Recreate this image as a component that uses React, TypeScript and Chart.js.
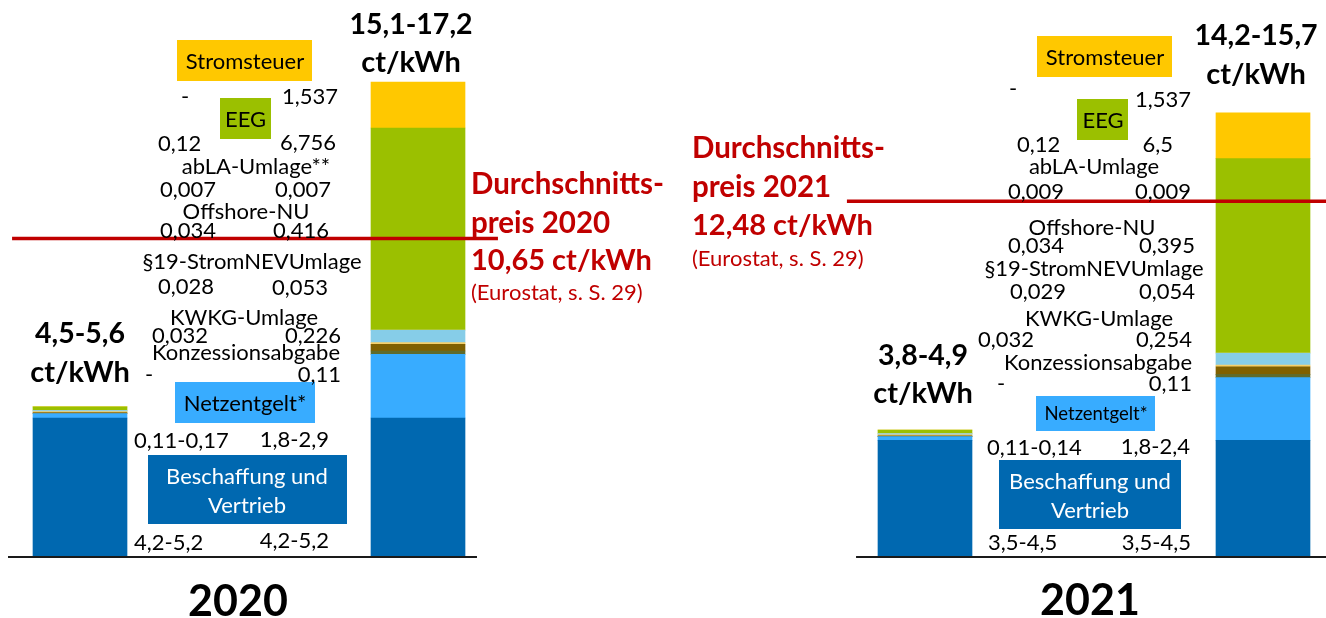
import React, { useEffect, useRef } from "react";
import { Chart, registerables } from "chart.js";
Chart.register(...registerables);

// ---------- DATA ----------
const years = ["2020", "2021"];
const components = [
  "Beschaffung und Vertrieb",
  "Netzentgelt*",
  "Konzessionsabgabe",
  "KWKG-Umlage",
  "§19-StromNEVUmlage",
  "Offshore-NU",
  "abLA-Umlage",
  "EEG",
  "Stromsteuer",
];
const componentColors = ["#0068B0", "#38ACFF", "#5F6B2C", "#806000", "#F5CF6A", "#86CDE8", "#D9D9D9", "#9BC000", "#FFC800"];

// bar slots on the x axis: 2020 low, 2020 high, 2021 low, 2021 high
const barSlots = [0, 2, 5, 7];
const beschaffung = [4.65, 4.65, 3.9, 3.9];
const netzentgelt = [0.15, 2.13, 0.125, 2.1];
const konzession = [0, 0.11, 0, 0.11];
const kwkg = [0.032, 0.226, 0.032, 0.254];
const stromnev = [0.028, 0.053, 0.029, 0.054];
const offshore = [0.034, 0.416, 0.034, 0.395];
const abla = [0.007, 0.007, 0.009, 0.009];
const eeg = [0.12, 6.756, 0.12, 6.5];
const stromsteuer = [0, 1.537, 0, 1.537];
const series = [beschaffung, netzentgelt, konzession, kwkg, stromnev, offshore, abla, eeg, stromsteuer];

const barTotals = ["4,5-5,6", "15,1-17,2", "3,8-4,9", "14,2-15,7"];
const avgPriceText = ["10,65", "12,48"];
const avgLineLevel = [10.65, 11.9];

// value labels [low, high] per component
const labels2020 = [
  ["4,2-5,2", "4,2-5,2"],
  ["0,11-0,17", "1,8-2,9"],
  ["-", "0,11"],
  ["0,032", "0,226"],
  ["0,028", "0,053"],
  ["0,034", "0,416"],
  ["0,007", "0,007"],
  ["0,12", "6,756"],
  ["-", "1,537"],
];
const labels2021 = [
  ["3,5-4,5", "3,5-4,5"],
  ["0,11-0,14", "1,8-2,4"],
  ["-", "0,11"],
  ["0,032", "0,254"],
  ["0,029", "0,054"],
  ["0,034", "0,395"],
  ["0,009", "0,009"],
  ["0,12", "6,5"],
  ["-", "1,537"],
];
const nameSuffix2020 = ["", "", "", "", "", "", "**", "", ""];

// ---------- LAYOUT (pixels) ----------
// per component: [nameX, nameY, lowLeftX, lowY, highRightX, highY]
const layout2020 = [
  [247, 476, 134, 542, 329, 540],
  [245, 403, 134, 440, 329, 439],
  [246, 352, 145, 374, 341, 374],
  [244, 317, 152, 335, 341, 335],
  [252, 261, 158, 286, 328, 287],
  [246, 211, 160, 230, 329, 230],
  [256, 166, 160, 189, 331, 189],
  [245.5, 119, 158, 143, 336, 142],
  [245, 61, 181, 96, 338, 96],
];
const layout2021 = [
  [1090, 481, 988, 542, 1191, 542],
  [1096, 413, 987, 447, 1190, 446],
  [1098, 362, 997, 383, 1192, 383],
  [1099, 318, 978, 339, 1192, 339],
  [1094, 268, 1010, 291, 1195, 291],
  [1092, 227, 1008, 245, 1195, 245],
  [1094, 166, 1008, 191, 1191, 191],
  [1103, 120, 1017, 144, 1173, 144],
  [1105, 57, 1009, 88, 1191, 99],
];
// boxes: component index -> [x0, y0, x1, y1]
const boxes2020: Record<number, number[]> = {
  0: [148, 455, 347, 524],
  1: [175, 382, 315, 423],
  7: [220, 98, 271, 139],
  8: [177, 40, 312, 81],
};
const boxes2021: Record<number, number[]> = {
  0: [999, 460, 1181, 529],
  1: [1036, 396, 1155, 431],
  7: [1077, 99, 1128, 140],
  8: [1037, 36, 1172, 77],
};
const totalPos = [
  [80, 333, 372],
  [411, 24, 62],
  [923, 355, 393],
  [1256, 35, 74],
];
const yearPos = [
  [238, 601],
  [1090, 600],
];
const redTextPos = [
  [471, 183, 222, 260, 292],
  [692, 147, 186, 225, 258],
];
// x-ranges of lines in slot units
const avgLineSpan = [
  [-0.402, 2.473],
  [4.538, 7.373],
];
const axisSpan = [
  [-0.426, 2.349],
  [4.592, 7.373],
];

const FONT = "Lato, 'Open Sans', sans-serif";
const RED = "#C00000";
const LABEL_SIZE = 22;

function drawText(
  ctx: CanvasRenderingContext2D,
  text: string,
  x: number,
  cy: number,
  size: number,
  opts: { bold?: boolean; align?: CanvasTextAlign; color?: string } = {}
) {
  ctx.font = `${opts.bold ? "bold " : ""}${size}px ${FONT}`;
  ctx.fillStyle = opts.color || "#000";
  ctx.textAlign = opts.align || "left";
  ctx.textBaseline = "alphabetic";
  ctx.fillText(text, x, cy + size * 0.36);
}

const overlayPlugin = {
  id: "overlay",
  afterDraw(chart: any) {
    const ctx: CanvasRenderingContext2D = chart.ctx;
    ctx.save();
    const panels = [
      { layout: layout2020, boxes: boxes2020, labels: labels2020, suffix: nameSuffix2020 },
      { layout: layout2021, boxes: boxes2021, labels: labels2021, suffix: null },
    ];
    panels.forEach((p, pi) => {
      components.forEach((name, i) => {
        const [nx, ny, lx, ly, hx, hy] = p.layout[i];
        const box = p.boxes[i];
        let color = "#000";
        let size = LABEL_SIZE;
        if (box) {
          ctx.fillStyle = componentColors[i];
          ctx.fillRect(box[0], box[1], box[2] - box[0], box[3] - box[1]);
          if (i === 0) color = "#FFFFFF";
          if (pi === 1 && i === 1) size = 18.5;
        }
        const full = name + (p.suffix ? p.suffix[i] : "");
        if (i === 0) {
          const parts = ["Beschaffung und", "Vertrieb"];
          drawText(ctx, parts[0], nx, ny, 22, { align: "center", color });
          drawText(ctx, parts[1], nx, ny + 29, 22, { align: "center", color });
        } else {
          drawText(ctx, full, nx, ny, size, { align: "center", color });
        }
        drawText(ctx, p.labels[i][0], lx, ly, LABEL_SIZE, { align: "left" });
        drawText(ctx, p.labels[i][1], hx, hy, LABEL_SIZE, { align: "right" });
      });
    });
    barTotals.forEach((t, i) => {
      const [x, y1, y2] = totalPos[i];
      drawText(ctx, t, x, y1, 28.5, { bold: true, align: "center" });
      drawText(ctx, "ct/kWh", x, y2, 29, { bold: true, align: "center" });
    });
    years.forEach((yr, i) => {
      drawText(ctx, yr, yearPos[i][0], yearPos[i][1], 43, { bold: true, align: "center" });
      const [rx, a, b, c, d] = redTextPos[i];
      drawText(ctx, "Durchschnitts-", rx, a, 29.5, { bold: true, color: RED });
      drawText(ctx, "preis " + yr, rx, b, 29.5, { bold: true, color: RED });
      drawText(ctx, avgPriceText[i] + " ct/kWh", rx, c, 29, { bold: true, color: RED });
      drawText(ctx, "(Eurostat, s. S. 29)", rx, d, 22, { color: RED });
    });
    ctx.restore();
  },
};

export default function App() {
  const ref = useRef<HTMLCanvasElement | null>(null);
  useEffect(() => {
    if (!ref.current) return;
    const barSets = series.map((vals, i) => ({
      type: "bar" as const,
      label: components[i],
      data: vals.map((v, k) => ({ x: barSlots[k], y: v })),
      backgroundColor: componentColors[i],
      borderWidth: 0,
      barThickness: 94,
      stack: "bars",
      order: 2,
    }));
    const lineSets: any[] = [];
    years.forEach((yr, i) => {
      lineSets.push({
        type: "line",
        label: "Durchschnittspreis " + yr,
        data: [
          { x: avgLineSpan[i][0], y: avgLineLevel[i] },
          { x: avgLineSpan[i][1], y: avgLineLevel[i] },
        ],
        borderColor: RED,
        borderWidth: 3.5,
        pointRadius: 0,
        stack: "avg" + yr,
        order: 1,
      });
      lineSets.push({
        type: "line",
        label: "axis " + yr,
        data: [
          { x: axisSpan[i][0], y: 0 },
          { x: axisSpan[i][1], y: 0 },
        ],
        borderColor: "#1a1a1a",
        borderWidth: 2,
        pointRadius: 0,
        stack: "axis" + yr,
        order: 0,
      });
    });
    const chart = new Chart(ref.current, {
      type: "bar",
      data: { datasets: [...barSets, ...lineSets] as any },
      options: {
        responsive: false,
        maintainAspectRatio: false,
        animation: false,
        layout: { padding: 0 },
        plugins: { legend: { display: false }, tooltip: { enabled: false }, title: { display: false } },
        scales: {
          x: { type: "linear", display: false, offset: false, min: -0.4734, max: 7.3728, stacked: true },
          y: { display: false, min: -2.04, max: 18.63, stacked: true },
        },
      },
      plugins: [overlayPlugin],
    } as any);
    return () => chart.destroy();
  }, []);
  return (
    <div
      style={{
        position: "fixed",
        left: 0,
        top: 0,
        width: 1326,
        height: 618,
        overflow: "hidden",
        background: "#fff",
      }}
    >
      <canvas ref={ref} width={1326} height={618} style={{ display: "block", width: 1326, height: 618 }} />
    </div>
  );
}
